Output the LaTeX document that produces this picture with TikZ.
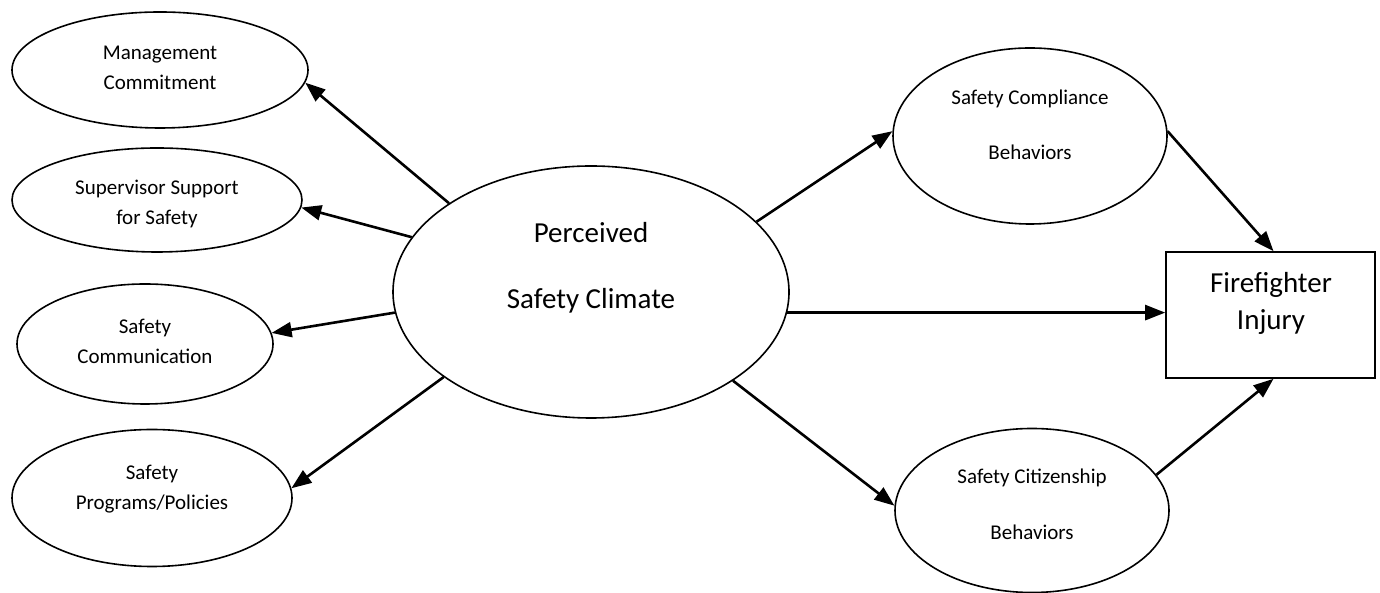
\documentclass[tikz,border=0pt]{standalone}
\usepackage{fontspec}
\setmainfont{Carlito}
\usetikzlibrary{arrows.meta,shapes.geometric,calc}
\tikzset{
  oval/.style={draw=black,line width=1.6pt,ellipse,inner sep=0pt,fill=white},
  boxnode/.style={draw=black,line width=1.6pt,rectangle,inner sep=0pt},
  smalltxt/.style={align=center,font=\fontsize{21}{30}\selectfont,inner sep=0pt},
  bigtxt/.style={align=center,font=\fontsize{29}{66}\selectfont,inner sep=0pt},
  conn/.style={line width=2.6pt,-{Triangle[length=20pt,width=15pt]}},
}
\begin{document}
\begin{tikzpicture}[x=1pt,y=1pt]
\useasboundingbox (0,0) rectangle (1380,593);
% left ellipses
\node[oval,minimum width=296pt,minimum height=116pt] (mc) at (160,523) {};
\node[oval,minimum width=290pt,minimum height=104pt] (ss) at (157,393) {};
\node[oval,minimum width=256pt,minimum height=120pt] (sc) at (145,249) {};
\node[oval,minimum width=280pt,minimum height=137pt] (sp) at (152,95) {};
% centre
\node[oval,minimum width=396pt,minimum height=252pt] (pc) at (591,301) {};
% right
\node[oval,minimum width=274pt,minimum height=176pt] (comp) at (1030,457) {};
\node[oval,minimum width=274pt,minimum height=164pt] (cit) at (1032,82.5) {};
\node[boxnode,minimum width=209pt,minimum height=126pt] (ff) at (1270.5,278) {};
% texts
\node[smalltxt] (mct) at (160,525) {Management\\Commitment};
\node[smalltxt] (sst) at (157,389) {Supervisor Support\\for Safety};
\node[smalltxt] (sct) at (145,251.5) {Safety\\Communication};
\node[smalltxt] (spt) at (152,103.5) {Safety\\Programs/Policies};
\node[bigtxt] (pct) at (591,325) {Perceived\\Safety Climate};
\node[smalltxt,font=\fontsize{21}{55}\selectfont] (compt) at (1030,468.5) {Safety Compliance\\Behaviors};
\node[smalltxt,font=\fontsize{21}{56}\selectfont] (citt) at (1032,89) {Safety Citizenship\\Behaviors};
\node[bigtxt,font=\fontsize{29}{37}\selectfont] (fft) at (1271,290) {Firefighter\\Injury};
% connectors
\draw[conn] (pc.148.9) -- (mc.-5);
\draw[conn] (pc.163.6) -- (ss.-3);
\draw[conn] (pc.186.1) -- (sc.5);
\draw[conn] (pc.210.8) -- (sp.4);
\draw[conn] (pc.23) -- (comp.178);
\draw[conn] (pc.354.3) -- (pc.354.3 -| ff.west);
\draw[conn] (pc.328.9) -- (cit.178);
\draw[conn] (comp.2.5) -- ($(ff.north)+(3,0)$);
\draw[conn] (cit.16.9) -- ($(ff.south)+(3,0)$);
\end{tikzpicture}
\end{document}
